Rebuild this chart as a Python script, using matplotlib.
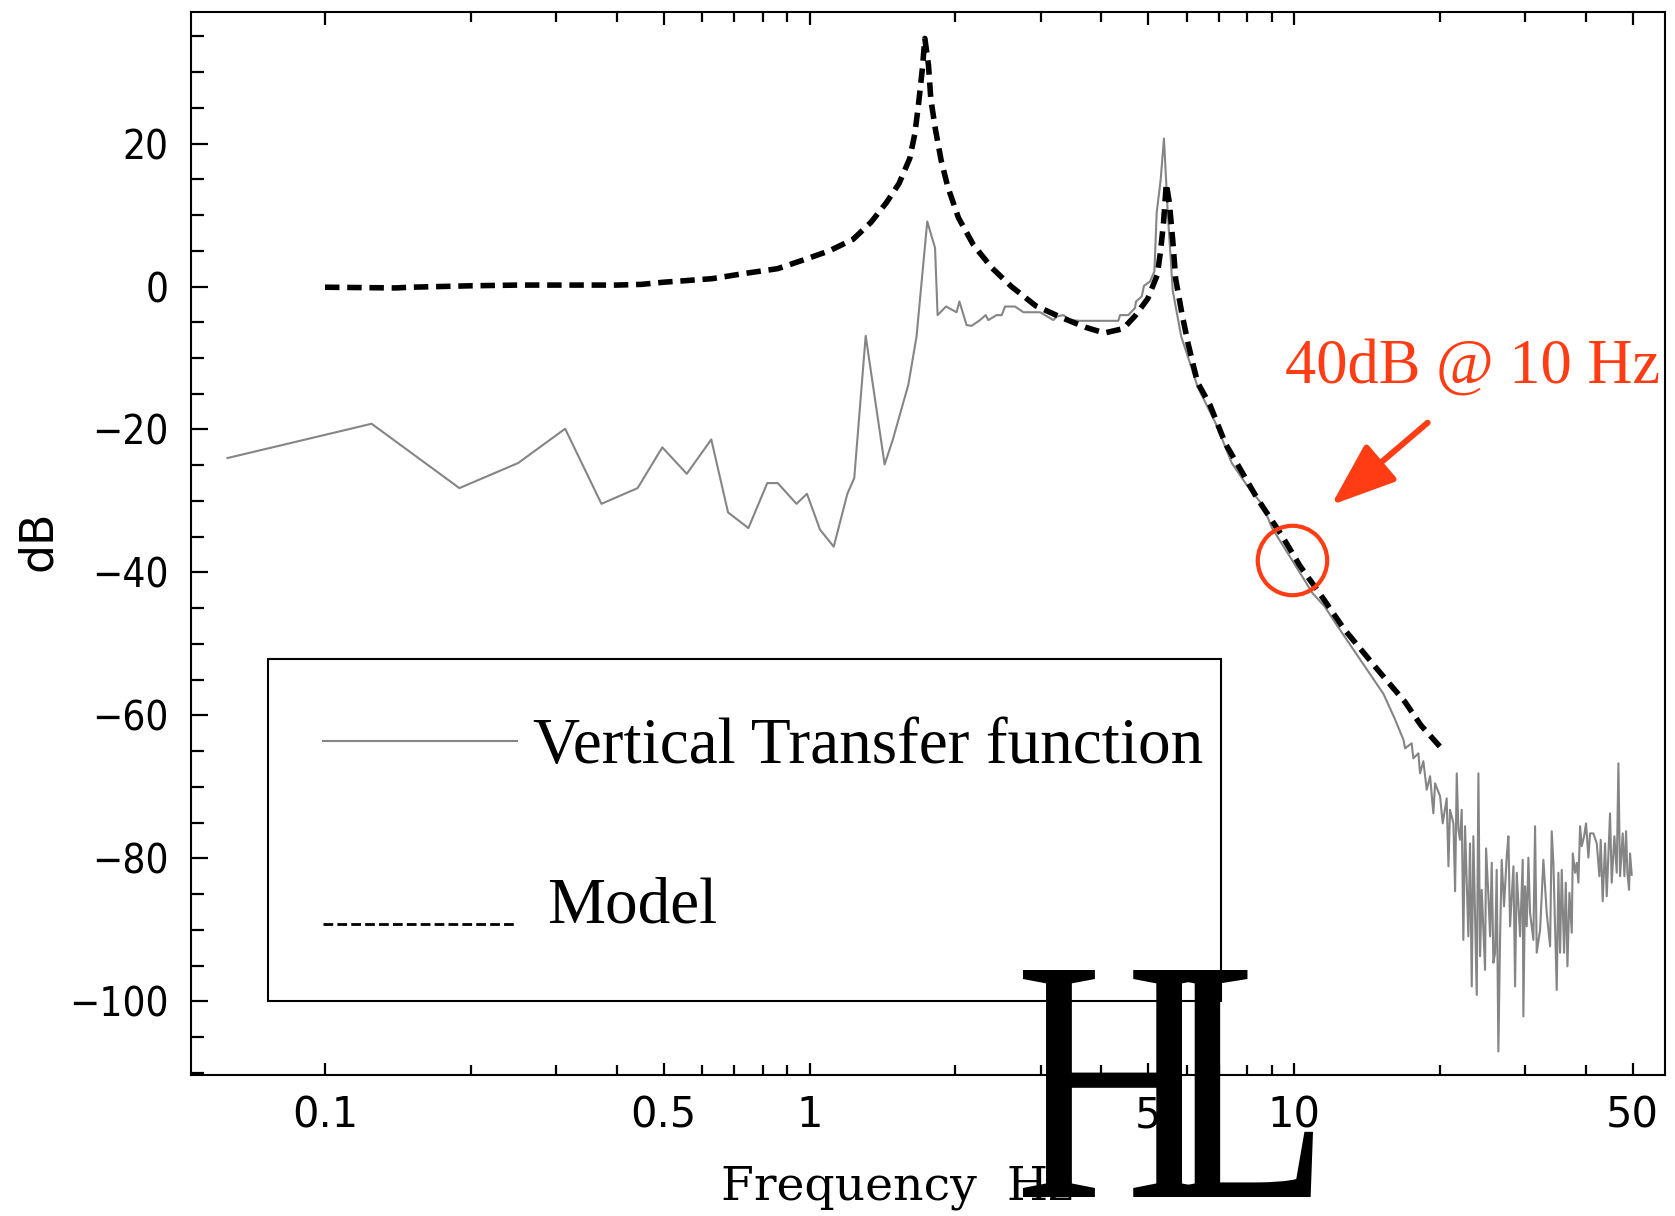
import matplotlib
matplotlib.use("Agg")
import matplotlib.pyplot as plt
from matplotlib.ticker import FixedLocator, FixedFormatter, MultipleLocator, NullFormatter
from matplotlib.font_manager import FontProperties, findfont
from matplotlib.textpath import TextPath
from matplotlib.patches import PathPatch, Rectangle
from matplotlib.transforms import Affine2D, IdentityTransform

# measured transfer function (gray), low part then noisy high part
vt_f_low = [0.0629, 0.1248, 0.1894, 0.2503, 0.3131, 0.372, 0.4418, 0.4968, 0.5581, 0.627,
            0.679, 0.748, 0.818, 0.860, 0.940, 0.988, 1.051, 1.122, 1.197, 1.237,
            1.306, 1.429, 1.486, 1.600, 1.663, 1.750, 1.816, 1.838, 1.913, 2.012,
            2.039, 2.110, 2.161, 2.248, 2.310, 2.339, 2.433, 2.493, 2.533, 2.656,
            2.763, 2.992, 3.186, 3.237, 3.341, 3.450, 3.617, 4.339, 4.374, 4.551,
            4.697, 4.719, 4.849, 4.902, 5.044, 5.149, 5.165, 5.206, 5.305, 5.39,
            5.49, 5.62, 5.85, 6.14, 6.32, 6.91, 7.44, 8.01, 8.62, 9.01,
            9.85, 10.92, 11.58, 12.18, 13.14, 14.18, 15.30, 16.10]
vt_db_low = [-24.0, -19.2, -28.2, -24.7, -19.9, -30.4, -28.2, -22.5, -26.2, -21.4,
             -31.6, -33.8, -27.5, -27.5, -30.4, -29.0, -34.0, -36.4, -29.0, -26.8,
             -6.9, -24.9, -21.4, -13.7, -7.0, 9.1, 5.4, -4.0, -2.8, -3.6,
             -2.1, -5.4, -5.5, -4.7, -4.0, -4.7, -4.0, -4.0, -2.8, -2.8,
             -3.6, -3.6, -4.7, -4.2, -4.0, -4.7, -4.8, -4.8, -4.0, -4.0,
             -3.0, -2.1, -1.4, 0.1, 0.7, 2.1, 4.2, 10.3, 14.9, 20.7,
             10.1, -0.6, -7.0, -11.3, -14.0, -19.3, -24.7, -27.9, -30.6, -33.8,
             -38.0, -42.9, -44.8, -47.1, -50.4, -53.7, -57.0, -60.3]

vt_f_high = [16.82, 16.95, 17.49, 17.63, 18.06, 18.20, 18.49, 18.79, 19.09, 19.39,
             19.55, 20.02, 20.27, 20.66, 20.83, 20.99, 21.33, 21.50, 21.67, 21.84,
             22.01, 22.19, 22.36, 22.54, 22.90, 23.08, 23.27, 23.45, 23.83, 24.02,
             24.21, 24.40, 24.79, 24.91, 25.19, 25.39, 25.59, 25.79, 26.00, 26.20,
             26.41, 26.62, 26.83, 27.13, 27.48, 27.70, 27.92, 28.37, 28.59, 28.82,
             29.28, 29.65, 29.74, 29.98, 30.22, 30.46, 30.70, 31.19, 31.44, 31.69,
             32.20, 32.71, 33.23, 33.77, 34.03, 34.30, 34.85, 35.13, 35.41, 35.69,
             36.09, 36.38, 36.67, 37.02, 37.43, 37.61, 38.03, 38.33, 38.63, 38.94,
             39.25, 39.69, 40.06, 40.51, 40.83, 41.48, 42.15, 42.68, 42.95, 43.36,
             43.85, 44.20, 44.90, 45.26, 45.84, 46.35, 46.72, 47.09, 47.69, 48.07,
             48.45, 48.76, 49.15, 49.38, 49.77]
vt_db_high = [-63.4, -64.6, -63.9, -66.0, -65.3, -68.1, -66.4, -70.4, -68.5, -73.7,
              -69.5, -71.3, -75.1, -71.6, -81.1, -73.2, -75.1, -84.6, -68.1, -76.0,
              -77.4, -73.2, -91.4, -75.5, -90.9, -77.9, -97.9, -76.9, -99.1, -68.1,
              -93.7, -84.4, -95.6, -78.6, -85.3, -90.9, -80.6, -94.6, -93.2, -81.6,
              -107.0, -91.4, -80.2, -86.7, -79.7, -76.9, -89.5, -81.1, -97.9, -82.0,
              -90.9, -80.2, -102.1, -83.9, -89.5, -79.9, -87.6, -91.4, -75.5, -93.2,
              -90.0, -80.2, -87.6, -92.3, -76.2, -80.6, -98.4, -82.0, -93.2, -81.6,
              -93.2, -83.4, -95.1, -84.8, -90.4, -79.3, -82.0, -80.6, -83.4, -75.5,
              -78.3, -76.9, -75.1, -79.9, -76.5, -76.5, -77.9, -82.5, -77.4, -86.0,
              -77.9, -85.3, -73.7, -83.4, -76.9, -82.0, -66.7, -82.5, -76.5, -82.5,
              -76.2, -82.0, -84.4, -79.3, -82.3]

# model (dashed)
model_f = [0.10, 0.14, 0.15, 0.20, 0.25, 0.30, 0.35, 0.40, 0.45, 0.50,
           0.55, 0.63, 0.73, 0.86, 0.97, 1.10, 1.23, 1.34, 1.44, 1.53,
           1.61, 1.65, 1.68, 1.71, 1.73, 1.76, 1.78, 1.82, 1.87, 1.93,
           2.03, 2.18, 2.38, 2.61, 2.93, 3.30, 3.71, 4.06, 4.44, 4.70,
           4.99, 5.22, 5.30, 5.38, 5.45, 5.53, 5.62, 5.70, 5.87, 6.05,
           6.32, 6.71, 7.22, 7.77, 8.37, 9.43, 10.29, 11.42, 12.68, 14.92,
           16.94, 18.29, 20.03]
model_db = [-0.1, -0.2, -0.1, 0.1, 0.2, 0.2, 0.2, 0.2, 0.3, 0.6,
            0.8, 1.1, 1.8, 2.5, 3.7, 5.0, 6.6, 9.0, 11.7, 14.4,
            17.9, 21.4, 25.7, 30.5, 34.7, 31.0, 26.2, 21.9, 17.6, 13.9,
            9.6, 5.8, 2.6, 0.0, -2.7, -4.3, -5.7, -6.5, -5.9, -4.1,
            -1.7, 1.6, 4.8, 9.0, 14.4, 11.7, 6.4, 1.0, -3.8, -8.1,
            -13.4, -16.6, -22.0, -25.7, -29.5, -34.8, -39.1, -43.4, -47.9, -53.7,
            -58.1, -61.4, -64.4]

xticks = [0.1, 0.5, 1, 5, 10, 50]
xtick_labels = ["0.1", "0.5", "1", "5", "10", "50"]
xminor = [0.2, 0.3, 0.4, 0.6, 0.7, 0.8, 0.9, 2, 3, 4, 6, 7, 8, 9, 20, 30, 40]

# annotation: "40dB @ 10 Hz"
note_text = "40dB @ 10 Hz"
note_pos = (9.56, -13.4)
arrow_from = (18.87, -19.05)
arrow_to = (11.94, -30.56)
circle_at = (9.91, -38.3)
red = "#ff3c14"

W, H = 1675, 1216
fig = plt.figure(figsize=(W / 100, H / 100), dpi=100)
ax = fig.add_axes([191 / W, 141 / H, 1474 / W, 1063 / H])

vt_f = vt_f_low + vt_f_high
vt_db = vt_db_low + vt_db_high
ax.plot(vt_f, vt_db, color="#858585", lw=1.5, zorder=2)
ax.plot(model_f, model_db, color="black", lw=4, dashes=(2.6, 1.4), zorder=3)

ax.set_xscale("log")
ax.set_xlim(0.0529, 58.3)
ax.set_ylim(-110.3, 38.4)

ax.xaxis.set_major_locator(FixedLocator(xticks))
ax.xaxis.set_major_formatter(FixedFormatter(xtick_labels))
ax.xaxis.set_minor_locator(FixedLocator(xminor))
ax.xaxis.set_minor_formatter(NullFormatter())
ax.yaxis.set_major_locator(MultipleLocator(20))
ax.yaxis.set_minor_locator(MultipleLocator(5))

for s in ax.spines.values():
    s.set_linewidth(1.5)

ax.tick_params(axis="x", which="both", direction="in", top=True, bottom=True, width=1.6)
ax.tick_params(axis="x", which="major", length=9, pad=14, labelsize=30)
ax.tick_params(axis="x", which="minor", length=7)
ax.tick_params(axis="y", which="both", direction="in", left=True, right=False, width=1.6)
ax.tick_params(axis="y", which="major", length=12, pad=16)
ax.tick_params(axis="y", which="minor", length=9)

cond = FontProperties(family="DejaVu Sans", stretch="condensed")
ysize = 29 if "Condensed" in findfont(cond) else 25
for lab in ax.get_yticklabels():
    lab.set_fontproperties(cond)
    lab.set_fontsize(ysize)

# legend box drawn by hand
ax.add_patch(Rectangle((0.0522, 0.0696), 0.6466, 0.3217, transform=ax.transAxes,
                       fill=False, edgecolor="black", lw=1.5, zorder=5))
ax.plot([0.0896, 0.2212], [0.3142, 0.3142], transform=ax.transAxes, color="#858585", lw=1.5)
ax.plot([0.0896, 0.2212], [0.1420, 0.1420], transform=ax.transAxes, color="black", lw=2,
        dashes=(3.5, 1.5))
ax.text(0.2320, 0.2935, "Vertical Transfer function", transform=ax.transAxes,
        family="Liberation Serif", fontsize=47, va="baseline", ha="left")
ax.text(0.2415, 0.1439, "Model", transform=ax.transAxes,
        family="Liberation Serif", fontsize=47, va="baseline", ha="left")

# red annotation
ax.text(note_pos[0], note_pos[1], note_text, color=red, family="Liberation Serif",
        fontsize=45, ha="left", va="baseline")
ax.annotate("", xy=arrow_to, xytext=arrow_from,
            arrowprops=dict(arrowstyle="-|>,head_length=1.6,head_width=0.6", color=red,
                            lw=4.3, mutation_scale=25, shrinkA=0, shrinkB=0))
ax.plot([circle_at[0]], [circle_at[1]], marker="o", ms=50, mfc="none", mec=red, mew=3,
        zorder=6)

# axis labels
fig.text(39 / W, 1 - 541 / H, "dB", rotation=90, ha="center", va="center",
         family="DejaVu Sans", fontsize=33)
fig.text(721 / W, 17 / H, "Frequency  Hz", ha="left", va="baseline",
         family="DejaVu Serif", fontsize=34)

# big "HL" logo overlapping the bottom of the plot
serif = FontProperties(family="Liberation Serif")


def letter(ch, x0, x1, y0, y1):
    tp = TextPath((0, 0), ch, size=100, prop=serif)
    bb = tp.get_extents()
    tr = (Affine2D().translate(-bb.x0, -bb.y0)
          .scale((x1 - x0) / bb.width, (y1 - y0) / bb.height)
          .translate(x0, y0))
    fig.add_artist(PathPatch(tr.transform_path(tp), transform=IdentityTransform(),
                             facecolor="black", edgecolor="none", zorder=20))


letter("H", 1023, 1205, 19, 246)
letter("L", 1172, 1313, 19, 246)

fig.savefig("out.png", dpi=100)
